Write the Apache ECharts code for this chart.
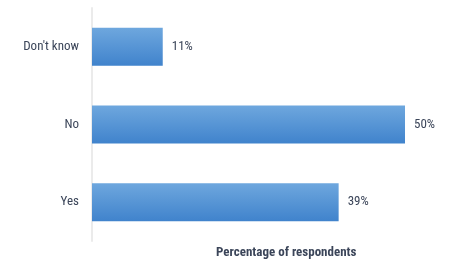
<!DOCTYPE html>
<html><head><meta charset="utf-8">
<script src="https://cdn.jsdelivr.net/npm/echarts@6/dist/echarts.min.js"></script>
<style>html,body{margin:0;padding:0;background:#fff}#c{width:450px;height:275px}</style>
</head><body><div id="c"></div>
<script>
var categories = ["Yes", "No", "Don't know"];
var values = [39.4, 50, 11.3];
var axisTitle = "Percentage of respondents";
var FONT = "'Roboto Condensed', 'Liberation Sans Narrow', 'Arial Narrow', Roboto, sans-serif";

var chart = echarts.init(document.getElementById('c'), null, {renderer: 'canvas'});
chart.setOption({
  animation: false,
  grid: {left: 92, top: 8, width: 313, bottom: 34, containLabel: false},
  title: {
    text: axisTitle, left: 211, top: 241,
    textStyle: {fontFamily: FONT, fontSize: 13, fontWeight: 'bold', color: '#3b4559'}
  },
  xAxis: {
    type: 'value', min: 0, max: 50,
    show: false
  },
  yAxis: {
    type: 'category', data: categories,
    axisLine: {show: true, lineStyle: {color: '#ebebeb', width: 2}},
    axisTick: {show: false},
    axisLabel: {fontFamily: FONT, fontSize: 13, color: '#3b4559', margin: 13}
  },
  series: [{
    type: 'bar', data: values, barWidth: 38,
    itemStyle: {
      color: new echarts.graphic.LinearGradient(0, 0, 0, 1, [
        {offset: 0, color: '#6ea7de'}, {offset: 1, color: '#4083cc'}
      ])
    },
    label: {
      show: true, position: 'right', distance: 9,
      formatter: function (p) { return Math.round(p.value) + '%'; },
      fontFamily: FONT, fontSize: 13, color: '#3b4559'
    }
  }]
});
</script></body></html>
